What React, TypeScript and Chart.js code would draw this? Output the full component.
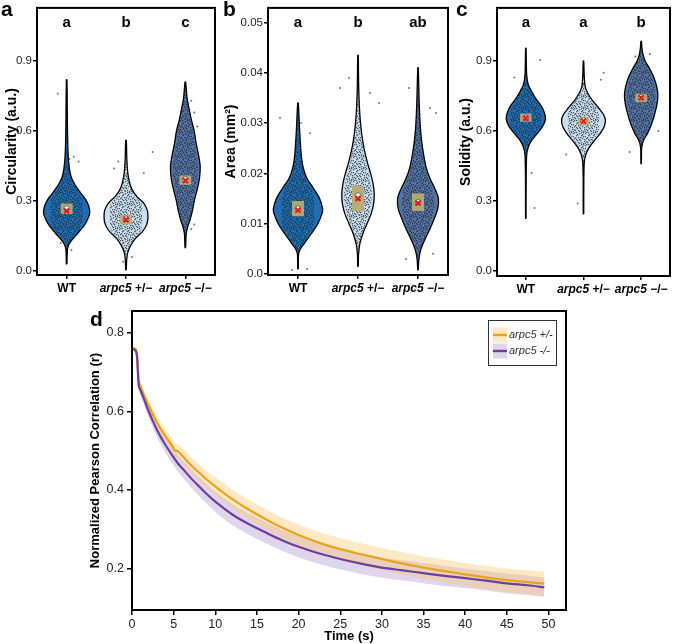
import React, { useEffect, useRef } from 'react';
import { Chart, registerables } from 'chart.js';
Chart.register(...registerables);

// ---------- data: panels a–c ----------
const groups = ['WT', 'arpc5 +/−', 'arpc5 −/−'];
const violinColors = ['#1f6db2', '#c8e0f2', '#5475a8'];

// violin profiles: [value, half-width (category units)]
const circWT = [[0.03,0.005],[0.09,0.012],[0.11,0.03],[0.13,0.08],[0.16,0.18],[0.19,0.28],[0.22,0.35],[0.25,0.39],[0.28,0.37],[0.31,0.31],[0.34,0.22],[0.37,0.14],[0.40,0.08],[0.44,0.045],[0.50,0.025],[0.60,0.014],[0.82,0.005]];
const circHet = [[0.005,0.005],[0.05,0.012],[0.08,0.03],[0.11,0.08],[0.14,0.16],[0.17,0.28],[0.20,0.35],[0.23,0.37],[0.26,0.36],[0.29,0.30],[0.32,0.18],[0.35,0.10],[0.38,0.06],[0.42,0.03],[0.48,0.014],[0.56,0.005]];
const circHom = [[0.10,0.005],[0.16,0.015],[0.19,0.04],[0.22,0.08],[0.26,0.12],[0.30,0.15],[0.35,0.20],[0.40,0.24],[0.45,0.25],[0.50,0.22],[0.55,0.18],[0.60,0.15],[0.65,0.10],[0.70,0.06],[0.74,0.03],[0.81,0.005]];
const circBox = [[0.245,0.29],[0.20,0.24],[0.37,0.41]];
const circMedian = [0.268, 0.224, 0.393];
const circMean = [0.258, 0.220, 0.388];
const circOut = [[0,-0.15,0.76],[0,0.12,0.49],[0,0.05,0.48],[0,0.2,0.47],[0,0.08,0.09],[0,-0.1,0.12],[1,0.45,0.51],[1,-0.13,0.47],[1,-0.2,0.44],[1,0.3,0.42],[1,-0.05,0.04],[1,0.1,0.06],[2,0.05,0.72],[2,0.1,0.73],[2,0.15,0.68],[2,0.2,0.62],[2,0.15,0.2],[2,0.1,0.18]];
const circLetters = ['a', 'b', 'c'];
const circTicks = [0, 0.3, 0.6, 0.9];
const circTickLabels = ['0.0', '0.3', '0.6', '0.9'];

const areaWT = [[0.001,0.004],[0.004,0.01],[0.005,0.04],[0.006,0.10],[0.008,0.22],[0.010,0.33],[0.012,0.40],[0.013,0.41],[0.015,0.36],[0.017,0.26],[0.019,0.15],[0.021,0.09],[0.023,0.06],[0.026,0.04],[0.029,0.025],[0.034,0.005]];
const areaHet = [[0.0015,0.004],[0.004,0.01],[0.006,0.03],[0.008,0.08],[0.010,0.15],[0.012,0.22],[0.014,0.26],[0.016,0.27],[0.018,0.25],[0.020,0.21],[0.022,0.16],[0.025,0.10],[0.028,0.06],[0.031,0.035],[0.034,0.02],[0.038,0.01],[0.0435,0.004]];
const areaHom = [[0.0008,0.004],[0.003,0.015],[0.005,0.05],[0.007,0.12],[0.009,0.20],[0.011,0.27],[0.013,0.33],[0.015,0.34],[0.017,0.28],[0.019,0.20],[0.021,0.14],[0.024,0.09],[0.027,0.055],[0.030,0.035],[0.034,0.02],[0.041,0.004]];
const areaBox = [[0.0115,0.0145],[0.0125,0.0175],[0.0125,0.016]];
const areaMedian = [0.0130, 0.0156, 0.0143];
const areaMean = [0.0127, 0.0150, 0.0141];
const areaOut = [[0,-0.3,0.031],[0,0.05,0.030],[0,0.2,0.028],[0,-0.1,0.0008],[0,0.15,0.001],[1,-0.15,0.039],[1,0.2,0.036],[1,0.35,0.034],[1,-0.3,0.037],[2,-0.15,0.037],[2,0.2,0.033],[2,0.3,0.032],[2,-0.2,0.003],[2,0.25,0.004]];
const areaLetters = ['a', 'b', 'ab'];
const areaTicks = [0, 0.01, 0.02, 0.03, 0.04, 0.05];
const areaTickLabels = ['0.0', '0.01', '0.02', '0.03', '0.04', '0.05'];

const solWT = [[0.225,0.004],[0.40,0.006],[0.50,0.015],[0.53,0.04],[0.56,0.10],[0.59,0.20],[0.62,0.29],[0.65,0.34],[0.68,0.32],[0.71,0.26],[0.74,0.17],[0.77,0.10],[0.80,0.04],[0.84,0.015],[0.90,0.008],[0.955,0.004]];
const solHet = [[0.245,0.004],[0.40,0.006],[0.47,0.015],[0.50,0.04],[0.53,0.10],[0.56,0.19],[0.59,0.29],[0.62,0.36],[0.645,0.38],[0.67,0.35],[0.70,0.26],[0.73,0.16],[0.76,0.08],[0.79,0.03],[0.84,0.012],[0.90,0.004]];
const solHom = [[0.46,0.004],[0.53,0.01],[0.56,0.04],[0.59,0.11],[0.63,0.18],[0.67,0.23],[0.71,0.27],[0.75,0.29],[0.79,0.27],[0.83,0.22],[0.87,0.14],[0.90,0.07],[0.93,0.03],[0.96,0.012],[0.985,0.004]];
const solBox = [[0.64,0.675],[0.625,0.66],[0.725,0.76]];
const solMedian = [0.657, 0.645, 0.745];
const solMean = [0.655, 0.643, 0.743];
const solOut = [[0,0.15,0.27],[0,0.1,0.42],[0,0.25,0.905],[0,-0.2,0.83],[1,0.35,0.85],[1,-0.1,0.29],[1,0.3,0.82],[1,-0.3,0.5],[2,-0.2,0.51],[2,0.15,0.93],[2,-0.1,0.92],[2,0.3,0.6]];
const solLetters = ['a', 'a', 'b'];
const solTicks = [0, 0.3, 0.6, 0.9];
const solTickLabels = ['0.0', '0.3', '0.6', '0.9'];

// ---------- data: panel d ----------
const timeS = [0, 0.4, 0.6, 0.8, 1, 1.5, 2, 3, 4, 4.9, 5.1, 5.5, 6, 7, 8, 9, 10, 12, 14, 16, 18, 20, 22.5, 25, 27.5, 30, 32.5, 35, 37.5, 40, 42.5, 45, 47.5, 49.5];
const hetMean = [0.760, 0.760, 0.745, 0.680, 0.665, 0.638, 0.615, 0.572, 0.538, 0.510, 0.502, 0.498, 0.488, 0.465, 0.445, 0.426, 0.409, 0.377, 0.350, 0.326, 0.304, 0.285, 0.265, 0.249, 0.236, 0.224, 0.212, 0.202, 0.193, 0.185, 0.177, 0.170, 0.165, 0.161];
const hetSd = [0.003, 0.003, 0.006, 0.010, 0.012, 0.014, 0.015, 0.017, 0.018, 0.019, 0.019, 0.019, 0.020, 0.021, 0.022, 0.022, 0.023, 0.024, 0.025, 0.026, 0.026, 0.027, 0.027, 0.028, 0.028, 0.028, 0.029, 0.029, 0.029, 0.029, 0.030, 0.030, 0.030, 0.030];
const homMean = [0.760, 0.755, 0.740, 0.668, 0.655, 0.628, 0.600, 0.553, 0.515, 0.486, 0.480, 0.468, 0.456, 0.432, 0.410, 0.389, 0.370, 0.338, 0.313, 0.292, 0.272, 0.255, 0.238, 0.224, 0.212, 0.202, 0.195, 0.188, 0.181, 0.175, 0.169, 0.162, 0.157, 0.152];
const homSd = [0.003, 0.003, 0.006, 0.010, 0.012, 0.014, 0.016, 0.018, 0.020, 0.021, 0.021, 0.021, 0.022, 0.023, 0.024, 0.025, 0.026, 0.027, 0.027, 0.027, 0.027, 0.027, 0.027, 0.027, 0.026, 0.026, 0.026, 0.026, 0.026, 0.025, 0.025, 0.025, 0.025, 0.025];
const timeTicks = [0, 5, 10, 15, 20, 25, 30, 35, 40, 45, 50];
const corrTicks = [0.2, 0.4, 0.6, 0.8];
const legendLabels = ['arpc5 +/-', 'arpc5 -/-'];

// ---------- helpers ----------
const FONT = '"Liberation Sans", Arial, Helvetica, sans-serif';
// texture tile for the jittered raw points
const DOTS = [[0,0],[5,1],[9,0],[2,3],[7,3],[11,4],[4,5],[0,6],[8,6],[3,8],[6,8],[10,9],[1,10],[5,11],[9,11],[7,10],[11,1],[2,0],[6,5],[10,7],[4,10],[0,9],[3,2],[8,2],[1,5],[9,4],[5,7],[11,11],[7,0],[2,7]];

function dotPattern(): any {
  const c = document.createElement('canvas');
  c.width = 12; c.height = 12;
  const g = c.getContext('2d')!;
  g.fillStyle = 'rgba(30,30,30,0.72)';
  for (const [x, y] of DOTS) g.fillRect(x, y, 1.3, 1.3);
  return g.createPattern(c, 'repeat');
}

function violinPoints(profile: number[][], center: number, scale = 1, cap = Infinity) {
  const right = profile.map(([v, w]) => ({ x: center + Math.min(w * scale, cap), y: v }));
  const left = profile.slice().reverse().map(([v, w]) => ({ x: center - Math.min(w * scale, cap), y: v }));
  return [...right, ...left, right[0]];
}

function rectPoints(center: number, q1: number, q3: number, hw: number) {
  return [
    { x: center - hw, y: q1 }, { x: center + hw, y: q1 },
    { x: center + hw, y: q3 }, { x: center - hw, y: q3 }, { x: center - hw, y: q1 },
  ];
}

function drawGroupLabel(ctx: CanvasRenderingContext2D, label: string, x: number, cy: number, size: number, bold: boolean, centered = true) {
  const w = bold ? 'bold ' : '';
  ctx.textBaseline = 'middle';
  ctx.textAlign = 'left';
  const it = label.startsWith('arpc5') ? 'arpc5' : '';
  const rest = label.slice(it.length);
  ctx.font = `italic ${w}${size}px ${FONT}`;
  const w1 = it ? ctx.measureText(it).width : 0;
  ctx.font = `${w}${size}px ${FONT}`;
  const w2 = ctx.measureText(rest).width;
  const x0 = centered ? x - (w1 + w2) / 2 : x;
  if (it) {
    ctx.font = `italic ${w}${size}px ${FONT}`;
    ctx.fillText(it, x0, cy);
  }
  ctx.font = `${w}${size}px ${FONT}`;
  ctx.fillText(rest, x0 + w1, cy);
}

interface ViolinPanel {
  label: string; labelX: number;
  profiles: number[][][]; boxes: number[][]; medians: number[]; means: number[]; outliers: number[][];
  letters: string[]; ticks: number[]; tickLabels: string[];
  min: number; max: number; title: string; titlePad: number;
  yWidth: number; padRight: number; xHeight: number;
}

function violinConfig(p: ViolinPanel): any {
  const pattern = dotPattern();
  const ds: any[] = [];
  p.profiles.forEach((prof, i) => {
    ds.push({ data: violinPoints(prof, i), backgroundColor: violinColors[i], borderColor: '#000', borderWidth: 1.3, fill: 'shape', tension: 0.3, pointRadius: 0 });
    ds.push({ data: violinPoints(prof, i, 0.85, 0.27), backgroundColor: pattern, borderWidth: 0, borderColor: 'rgba(0,0,0,0)', fill: 'shape', tension: 0.3, pointRadius: 0 });
  });
  p.boxes.forEach(([q1, q3], i) => {
    ds.push({ data: rectPoints(i, q1, q3, 0.1), backgroundColor: 'rgba(186,172,112,0.92)', borderWidth: 0, borderColor: 'rgba(0,0,0,0)', fill: 'shape', tension: 0, pointRadius: 0 });
  });
  ds.push({ data: p.outliers.map(([g, dx, v]) => ({ x: g + dx, y: v })), showLine: false, pointRadius: 1, pointBackgroundColor: 'rgba(70,70,70,0.75)', pointBorderWidth: 0 });
  ds.push({ data: p.medians.map((v, i) => ({ x: i, y: v })), showLine: false, pointRadius: 2.8, pointBackgroundColor: '#fff', pointBorderColor: '#555', pointBorderWidth: 0.8 });
  ds.push({ data: p.means.map((v, i) => ({ x: i, y: v })), showLine: false, pointStyle: 'crossRot', pointRadius: 3.5, pointBorderColor: '#e3161c', pointBorderWidth: 2 });
  ds.forEach((d, k) => { d.order = ds.length - k; });

  const decor = {
    id: 'decor',
    afterDraw(chart: any) {
      const { ctx, chartArea: ca, scales: { x } } = chart;
      ctx.save();
      ctx.strokeStyle = '#000';
      ctx.lineWidth = 2;
      ctx.strokeRect(ca.left, ca.top, ca.right - ca.left, ca.bottom - ca.top);
      ctx.fillStyle = '#000';
      ctx.font = `bold 21px ${FONT}`;
      ctx.textAlign = 'left';
      ctx.textBaseline = 'alphabetic';
      ctx.fillText(p.label, p.labelX, 16);
      ctx.font = `bold 15px ${FONT}`;
      ctx.textAlign = 'center';
      ctx.textBaseline = 'middle';
      p.letters.forEach((l, i) => ctx.fillText(l, x.getPixelForValue(i), ca.top + 15));
      groups.forEach((g, i) => drawGroupLabel(ctx, g, x.getPixelForValue(i), ca.bottom + 14, 12, true));
      ctx.restore();
    },
  };

  return {
    type: 'line',
    data: { datasets: ds },
    plugins: [decor],
    options: {
      responsive: false, animation: false, events: [],
      layout: { padding: { left: 0, right: p.padRight, top: 4, bottom: 0 } },
      plugins: { legend: { display: false }, tooltip: { enabled: false } },
      scales: {
        x: {
          type: 'linear', min: -0.5, max: 2.5,
          afterBuildTicks: (a: any) => { a.ticks = [0, 1, 2].map((v) => ({ value: v })); },
          afterFit: (a: any) => { a.height = p.xHeight; },
          ticks: { callback: () => '' },
          grid: { display: true, drawOnChartArea: false, drawTicks: true, tickLength: 4, color: '#000', lineWidth: 1.5 },
          border: { display: false },
        },
        y: {
          type: 'linear', min: p.min, max: p.max,
          afterBuildTicks: (a: any) => { a.ticks = p.ticks.map((v) => ({ value: v })); },
          afterFit: (a: any) => { a.width = p.yWidth; },
          ticks: { padding: 1, color: '#222', font: { family: FONT, size: 11.5 }, callback: (_v: any, i: number) => p.tickLabels[i] },
          grid: { display: true, drawOnChartArea: false, drawTicks: true, tickLength: 4, color: '#000', lineWidth: 1.5 },
          border: { display: false },
          title: { display: true, text: p.title, color: '#000', font: { family: FONT, size: 14, weight: 'bold' }, padding: { top: p.titlePad, bottom: 0 } },
        },
      },
    },
  };
}

function lineConfig(): any {
  const het = '#eba21a';
  const hom = '#6b3ea0';
  const hetBand = 'rgba(250,200,110,0.40)';
  const homBand = 'rgba(150,118,198,0.30)';
  const pts = (arr: number[]) => arr.map((v, i) => ({ x: timeS[i], y: v }));
  const ds: any[] = [
    { data: pts(homMean.map((m, i) => m + homSd[i])), fill: '+1', backgroundColor: homBand, borderWidth: 0, borderColor: 'rgba(0,0,0,0)', pointRadius: 0, cubicInterpolationMode: 'monotone' },
    { data: pts(homMean.map((m, i) => m - homSd[i])), fill: false, borderWidth: 0, borderColor: 'rgba(0,0,0,0)', pointRadius: 0, cubicInterpolationMode: 'monotone' },
    { data: pts(hetMean.map((m, i) => m + hetSd[i])), fill: '+1', backgroundColor: hetBand, borderWidth: 0, borderColor: 'rgba(0,0,0,0)', pointRadius: 0, cubicInterpolationMode: 'monotone' },
    { data: pts(hetMean.map((m, i) => m - hetSd[i])), fill: false, borderWidth: 0, borderColor: 'rgba(0,0,0,0)', pointRadius: 0, cubicInterpolationMode: 'monotone' },
    { data: pts(hetMean), fill: false, borderColor: het, borderWidth: 2.2, pointRadius: 0, cubicInterpolationMode: 'monotone' },
    { data: pts(homMean), fill: false, borderColor: hom, borderWidth: 2.2, pointRadius: 0, cubicInterpolationMode: 'monotone' },
  ];
  ds.forEach((d, k) => { d.order = ds.length - k; });

  const decor = {
    id: 'decorD',
    afterDraw(chart: any) {
      const { ctx, chartArea: ca } = chart;
      ctx.save();
      ctx.strokeStyle = '#000';
      ctx.lineWidth = 2;
      ctx.strokeRect(ca.left, ca.top, ca.right - ca.left, ca.bottom - ca.top);
      ctx.fillStyle = '#000';
      ctx.font = `bold 21px ${FONT}`;
      ctx.textAlign = 'left';
      ctx.textBaseline = 'alphabetic';
      ctx.fillText('d', 90, 26);
      // legend
      const lx = 488, ly = 20, lw = 68, lh = 45;
      ctx.fillStyle = '#fff';
      ctx.fillRect(lx, ly, lw, lh);
      ctx.strokeStyle = '#333';
      ctx.lineWidth = 1;
      ctx.strokeRect(lx + 0.5, ly + 0.5, lw, lh);
      const cols = [[hetBand, het], [homBand, hom]];
      legendLabels.forEach((t, i) => {
        const cy = ly + 15 + i * 16;
        ctx.fillStyle = cols[i][0];
        ctx.fillRect(lx + 5, cy - 7.5, 14, 15);
        ctx.strokeStyle = cols[i][1];
        ctx.lineWidth = 2.4;
        ctx.beginPath();
        ctx.moveTo(lx + 5, cy);
        ctx.lineTo(lx + 19, cy);
        ctx.stroke();
        ctx.fillStyle = '#333';
        ctx.font = `italic 11px ${FONT}`;
        ctx.textAlign = 'left';
        ctx.textBaseline = 'middle';
        ctx.fillText(t, lx + 21, cy);
      });
      ctx.restore();
    },
  };
  return {
    type: 'line',
    data: { datasets: ds },
    plugins: [decor],
    options: {
      responsive: false, animation: false, events: [],
      layout: { padding: { left: 84, right: 110, top: 11, bottom: 0 } },
      plugins: { legend: { display: false }, tooltip: { enabled: false }, filler: { propagate: false } },
      scales: {
        x: {
          type: 'linear', min: 0, max: 52.1,
          afterBuildTicks: (a: any) => { a.ticks = timeTicks.map((v) => ({ value: v })); },
          afterFit: (a: any) => { a.height = 34; },
          ticks: { padding: 2, color: '#222', maxRotation: 0, font: { family: FONT, size: 12.5 }, callback: (v: any) => String(v) },
          grid: { display: true, drawOnChartArea: false, drawTicks: true, tickLength: 5, color: '#000', lineWidth: 1.5 },
          border: { display: false },
          title: { display: true, text: 'Time (s)', color: '#000', font: { family: FONT, size: 13, weight: 'bold' }, padding: { top: 0, bottom: 0 } },
        },
        y: {
          type: 'linear', min: 0.094, max: 0.856,
          afterBuildTicks: (a: any) => { a.ticks = corrTicks.map((v) => ({ value: v })); },
          afterFit: (a: any) => { a.width = 48; },
          ticks: { padding: 3, color: '#222', font: { family: FONT, size: 12.5 }, callback: (v: any) => Number(v).toFixed(1) },
          grid: { display: true, drawOnChartArea: false, drawTicks: true, tickLength: 5, color: '#000', lineWidth: 1.5 },
          border: { display: false },
          title: { display: true, text: 'Normalized Pearson Correlation (r)', color: '#000', font: { family: FONT, size: 13, weight: 'bold' }, padding: { top: 4, bottom: 0 } },
        },
      },
    },
  };
}

function ChartCanvas({ config, left, top, width, height }: { config: () => any; left: number; top: number; width: number; height: number }) {
  const ref = useRef<HTMLCanvasElement>(null);
  useEffect(() => {
    const chart = new Chart(ref.current!, config());
    return () => chart.destroy();
  }, []);
  return <canvas ref={ref} width={width} height={height} style={{ position: 'absolute', left, top, width, height }} />;
}

export default function App() {
  const panelA: ViolinPanel = {
    label: 'a', labelX: 1, profiles: [circWT, circHet, circHom], boxes: circBox, medians: circMedian, means: circMean, outliers: circOut,
    letters: circLetters, ticks: circTicks, tickLabels: circTickLabels, min: -0.017, max: 1.128, title: 'Circularity (a.u.)', titlePad: 4,
    yWidth: 37, padRight: 7, xHeight: 25,
  };
  const panelB: ViolinPanel = {
    label: 'b', labelX: 1, profiles: [areaWT, areaHet, areaHom], boxes: areaBox, medians: areaMedian, means: areaMean, outliers: areaOut,
    letters: areaLetters, ticks: areaTicks, tickLabels: areaTickLabels, min: -0.0002, max: 0.0529, title: 'Area (mm²)', titlePad: 1,
    yWidth: 46, padRight: 5, xHeight: 25,
  };
  const panelC: ViolinPanel = {
    label: 'c', labelX: 2, profiles: [solWT, solHet, solHom], boxes: solBox, medians: solMedian, means: solMean, outliers: solOut,
    letters: solLetters, ticks: solTicks, tickLabels: solTickLabels, min: -0.021, max: 1.128, title: 'Solidity (a.u.)', titlePad: 4,
    yWidth: 43, padRight: 4, xHeight: 24,
  };
  return (
    <div style={{ position: 'absolute', left: 0, top: 0, width: 676, height: 644, background: '#fff' }}>
      <ChartCanvas config={() => violinConfig(panelA)} left={0} top={0} width={222} height={300} />
      <ChartCanvas config={() => violinConfig(panelB)} left={222} top={0} width={232} height={300} />
      <ChartCanvas config={() => violinConfig(panelC)} left={454} top={0} width={222} height={300} />
      <ChartCanvas config={lineConfig} left={0} top={300} width={676} height={344} />
    </div>
  );
}
